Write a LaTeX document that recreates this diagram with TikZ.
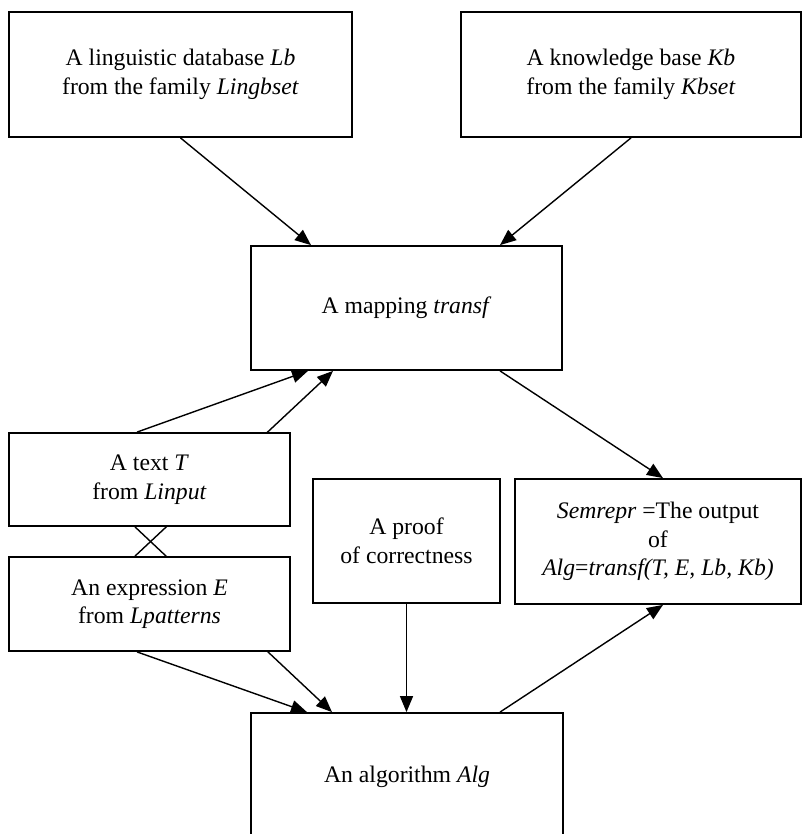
\documentclass[tikz,border=0pt]{standalone}
\usepackage{fontspec}
\setmainfont{Liberation Serif}
\usetikzlibrary{arrows.meta,backgrounds}
\begin{document}
\begin{tikzpicture}[x=1pt,y=-1pt,
  box/.style={draw, fill=white, line width=1.8pt, inner sep=0pt, align=center,
    font=\fontsize{23.7}{28.5}\selectfont},
  conn/.style={line width=1.4pt, -{Triangle[length=16pt,width=13pt]}},
  plain/.style={line width=1.4pt}]
\useasboundingbox (0,0) rectangle (803,834);
\node[box, minimum width=343pt, minimum height=125pt] (lb) at (180.5,74.5)
  {A linguistic database \textit{Lb}\\from the family \textit{Lingbset}};
\node[box, minimum width=340pt, minimum height=125pt] (kb) at (631,74.5)
  {A knowledge base \textit{Kb}\\from the family \textit{Kbset}};
\node[box, minimum width=311pt, minimum height=124pt] (tr) at (406.5,308)
  {A mapping \textit{transf}};
\node[box, minimum width=281pt, minimum height=93pt] (t) at (149.5,479.5)
  {A text \textit{T}\\from \textit{Linput}};
\node[box, minimum width=281pt, minimum height=94pt] (e) at (149.5,604)
  {An expression \textit{E}\\from \textit{Lpatterns}};
\node[box, minimum width=187pt, minimum height=124pt] (pr) at (406.5,541)
  {A proof\\of correctness};
\node[box, minimum width=286pt, minimum height=125pt] (sem) at (658,541.5)
  {\textit{Semrepr} =The output\\of\\\textit{Alg}=\textit{transf(T, E, Lb, Kb)}};
\node[box, minimum width=312pt, minimum height=128pt] (alg) at (407,777)
  {An algorithm \textit{Alg}};
\begin{scope}[on background layer]
  \draw[conn] (lb.south) -- ([xshift=-95.5pt]tr.north);
  \draw[conn] (kb.south) -- ([xshift=93.5pt]tr.north);
  \draw[conn] ([xshift=-12.5pt]t.north) -- ([xshift=-98.5pt]tr.south);
  \draw[conn] ([xshift=-14.5pt]e.north) -- ([xshift=-73.5pt]tr.south);
  \draw[conn] ([xshift=-14.5pt]t.south) -- ([xshift=-75pt]alg.north);
  \draw[conn] ([xshift=-12.5pt]e.south) -- ([xshift=-100pt]alg.north);
  \draw[conn] (pr.south) -- (pr.south |- alg.north);
  \draw[conn] ([xshift=93pt]alg.north) -- ([xshift=5pt]sem.south);
  \draw[conn] ([xshift=93.5pt]tr.south) -- ([xshift=5pt]sem.north);
\end{scope}
\end{tikzpicture}
\end{document}
